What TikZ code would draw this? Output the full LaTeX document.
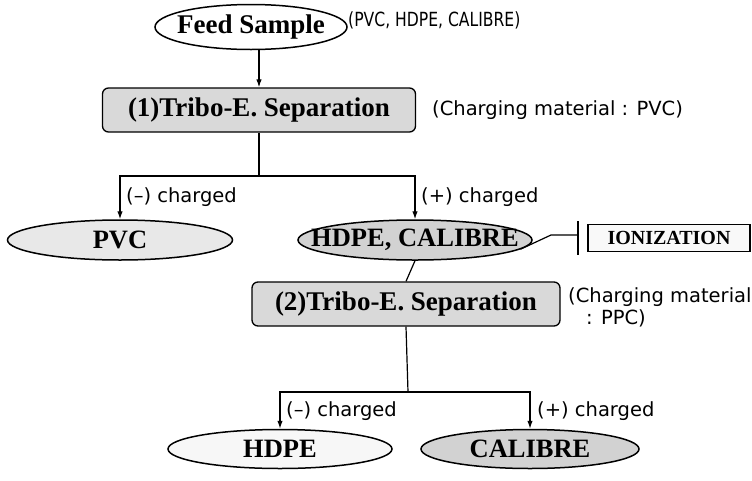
\documentclass[tikz,border=0pt]{standalone}
\usepackage{fontspec}
\setmainfont{Liberation Serif}
\newfontfamily\labfont{DejaVu Sans}
\usetikzlibrary{shapes.geometric,arrows.meta}
\begin{document}
\begin{tikzpicture}[x=1pt,y=-1pt,
  oval/.style={ellipse,draw,line width=1.5pt,inner sep=0pt},
  bigtxt/.style={inner sep=0pt,font=\fontsize{26.5}{28}\selectfont\bfseries},
  sepbox/.style={rectangle,rounded corners=6pt,draw,line width=1.3pt,fill=gray!30,
    minimum height=44pt,inner sep=0pt,font=\fontsize{27}{29}\selectfont\bfseries},
  lbl/.style={font=\labfont\fontsize{19.5}{22}\selectfont,inner sep=0pt,anchor=west},
  conn/.style={line width=1.2pt},
  arr/.style={conn,-{Latex[length=8pt,width=5.5pt]}},
]
\useasboundingbox (0,0) rectangle (752,480);
% top
\node[oval,fill=white,minimum width=192pt,minimum height=45pt] (feed) at (251,27) {};
\node[bigtxt,font=\fontsize{27}{29}\selectfont\bfseries] (feedt) at (feed) {Feed Sample};
\node[lbl] (feedl) at (348,20) {\scalebox{0.8}[1]{(PVC, HDPE, CALIBRE)}};
\node[sepbox,minimum width=313pt] (b1) at (259,110) {(1)Tribo-E. Separation};
\node[lbl] (b1l) at (432,110) {(Charging material : PVC)};
\draw[arr] (b1.north |- feed.south) -- (b1.north);
% first split
\coordinate (s1) at (259,176);
\node[oval,fill=gray!18,minimum width=225pt,minimum height=40pt] (pvc) at (120,240) {};
\node[bigtxt] (pvct) at (pvc) {PVC};
\node[oval,fill=gray!35,minimum width=234pt,minimum height=40pt] (hc) at (415,240) {};
\node[bigtxt] (hct) at (hc) {HDPE, CALIBRE};
\draw[conn] (b1.south) -- (s1);
\draw[arr] (s1) -| (pvc.north);
\draw[arr] (s1) -| (hc.north);
\node[lbl] (m1) at (126,197) {(–) charged};
\node[lbl] (p1) at (421,197) {(+) charged};
% ionization
\node[draw,line width=1.2pt,fill=gray!5,minimum width=162pt,minimum height=27pt,inner sep=0pt,
  font=\fontsize{20}{22}\selectfont\bfseries] (ion) at (669,238) {IONIZATION};
\coordinate (kink) at (551,235);
\coordinate (barm) at (578,235);
\coordinate (bart) at (578,221);
\coordinate (barb) at (578,255);
\draw[conn] (hc.-5) -- (kink) -- (barm);
\draw[conn] (bart) -- (barb);
% second separation
\node[sepbox,minimum width=308pt] (b2) at (406,304) {(2)Tribo-E. Separation};
\node[lbl] (b2l) at (568,297) {(Charging material};
\node[lbl] (b2l2) at (586,318) {: PPC)};
\draw[conn] (hc.south) -- (b2.north);
\coordinate (s2) at (408,392);
\node[oval,fill=gray!6,minimum width=224pt,minimum height=39pt] (hdpe) at (280,449) {};
\node[bigtxt] (hdpet) at (hdpe) {HDPE};
\node[oval,fill=gray!35,minimum width=218pt,minimum height=39pt] (cal) at (530,449) {};
\node[bigtxt] (calt) at (cal) {CALIBRE};
\draw[conn] (b2.south) -- (s2);
\draw[arr] (s2) -| (hdpe.north);
\draw[arr] (s2) -| (cal.north);
\node[lbl] (m2) at (286,411) {(–) charged};
\node[lbl] (p2) at (537,411) {(+) charged};
\end{tikzpicture}
\end{document}
